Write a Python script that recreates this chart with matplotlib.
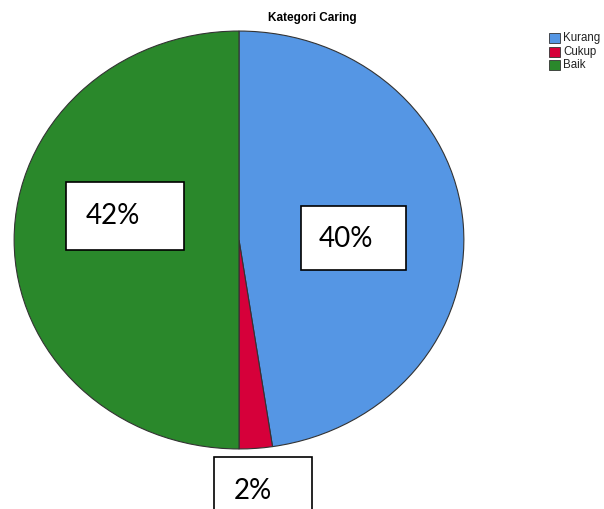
import matplotlib.pyplot as plt
from matplotlib.patches import Rectangle

# data
kategori = ['Kurang', 'Cukup', 'Baik']
jumlah = [20, 1, 21]
warna = ['#5596E4', '#D6003A', '#2A882B']
label_persen = ['40%', '2%', '42%']

W, H = 604, 509
fig = plt.figure(figsize=(W / 100, H / 100), dpi=100)

# ellips pie (x 13-465, y 30-450 px)
ax = fig.add_axes([13 / W, 1 - 450 / H, 452 / W, 420 / H])
wedges, _ = ax.pie(jumlah, colors=warna, startangle=90, counterclock=False,
                   radius=1, wedgeprops=dict(edgecolor='#333333', linewidth=0.8))
ax.set_xlim(-1.005, 1.005)
ax.set_ylim(-1.005, 1.005)
ax.set_aspect('auto')
ax.axis('off')

fig.text(312 / W, 1 - 18 / H, 'Kategori Caring', ha='center', va='center',
         fontsize=8.5, fontweight='bold', family='Liberation Sans')

# kotak label (x0, y0, x1, y1 in px) dan posisi teks
kotak = [(301, 206, 406, 270), (214, 457, 312, 520), (66, 182, 184, 250)]
teks_pos = [(319, 239), (234, 491), (86, 216)]
for (x0, y0, x1, y1), (tx, ty), lab in zip(kotak, teks_pos, label_persen):
    fig.patches.append(Rectangle((x0 / W, 1 - y1 / H), (x1 - x0) / W, (y1 - y0) / H,
                                 transform=fig.transFigure, facecolor='white',
                                 edgecolor='black', linewidth=1.2, zorder=5))
    fig.text(tx / W, 1 - ty / H, lab, ha='left', va='center', fontsize=20,
             family='Lato', zorder=6)

# legenda
for i, (k, c) in enumerate(zip(kategori, warna)):
    y = 38 + i * 13.5
    fig.patches.append(Rectangle((549 / W, 1 - (y + 5) / H), 11 / W, 10 / H,
                                 transform=fig.transFigure, facecolor=c,
                                 edgecolor='#333333', linewidth=0.6))
    fig.text(563 / W, 1 - y / H, k, ha='left', va='center', fontsize=8.3,
             family='Liberation Sans', color='#222222')

fig.savefig('out.png', dpi=100)
